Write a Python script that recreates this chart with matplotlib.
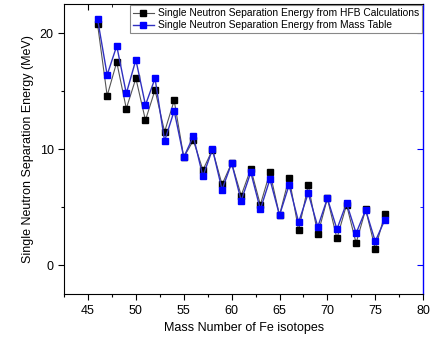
import matplotlib
matplotlib.use("Agg")
import matplotlib.pyplot as plt
from matplotlib.ticker import MultipleLocator

plt.rcParams['font.family'] = ['Liberation Sans', 'DejaVu Sans']

mass = list(range(46, 77))
sn_hfb = [20.75, 14.6, 17.5, 13.5, 16.1, 12.5, 15.1, 11.5, 14.2, 9.3,
          10.75, 8.2, 9.95, 6.95, 8.8, 6.0, 8.3, 5.2, 8.0, 4.3,
          7.55, 3.0, 6.9, 2.65, 5.75, 2.3, 5.2, 1.9, 4.8, 1.4, 4.4]
sn_table = [21.2, 16.4, 18.9, 14.8, 17.7, 13.8, 16.1, 10.7, 13.3, 9.3,
            11.1, 7.65, 10.0, 6.5, 8.8, 5.55, 8.0, 4.8, 7.4, 4.3,
            6.9, 3.7, 6.2, 3.3, 5.75, 3.1, 5.35, 2.75, 4.75, 2.05, 3.9]

fig = plt.figure(figsize=(4.3, 3.46), dpi=100)
ax = fig.add_axes([0.149, 0.150, 0.835, 0.838])

ax.plot(mass, sn_hfb, color='#555555', lw=0.8, marker='s', ms=4.5,
        mfc='black', mec='black',
        label='Single Neutron Separation Energy from HFB Calculations')
ax.plot(mass, sn_table, color='#3030c0', lw=1.0, marker='s', ms=4.5,
        mfc='#0000ff', mec='#0000ff',
        label='Single Neutron Separation Energy from Mass Table')

ax.set_xlim(42.5, 80)
ax.set_ylim(-2.5, 22.5)
ax.xaxis.set_major_locator(MultipleLocator(5))
ax.xaxis.set_minor_locator(MultipleLocator(2.5))
ax.yaxis.set_major_locator(MultipleLocator(10))
ax.yaxis.set_minor_locator(MultipleLocator(5))

ax.tick_params(axis='both', which='both', direction='out', labelsize=9, width=0.8)
ax.tick_params(which='major', length=4)
ax.tick_params(which='minor', length=2.5)

# top ticks inward, no labels
sec = ax.secondary_xaxis('top')
sec.xaxis.set_major_locator(MultipleLocator(5))
sec.xaxis.set_minor_locator(MultipleLocator(2.5))
sec.tick_params(direction='in', which='major', length=4, labeltop=False)
sec.tick_params(direction='in', which='minor', length=2.5)
sec.spines['top'].set_visible(False)

# blue right axis
ax.spines['right'].set_color('#0000ff')
ax.spines['right'].set_linewidth(1.0)
sey = ax.secondary_yaxis('right')
sey.yaxis.set_major_locator(MultipleLocator(10))
sey.yaxis.set_minor_locator(MultipleLocator(5))
sey.tick_params(direction='in', which='major', length=4, color='#0000ff', labelright=False)
sey.tick_params(direction='in', which='minor', length=2.5, color='#0000ff')
sey.spines['right'].set_visible(False)

ax.set_xlabel('Mass Number of Fe isotopes', fontsize=9)
ax.set_ylabel('Single Neutron Separation Energy (MeV)', fontsize=9)

leg = ax.legend(loc='upper right', fontsize=7.4, fancybox=False, framealpha=1,
                edgecolor='#888888', borderpad=0.3, labelspacing=0.2,
                handlelength=2.0, handletextpad=0.4, borderaxespad=0.1)
leg.get_frame().set_linewidth(0.8)

fig.savefig('out.png', dpi=100)
